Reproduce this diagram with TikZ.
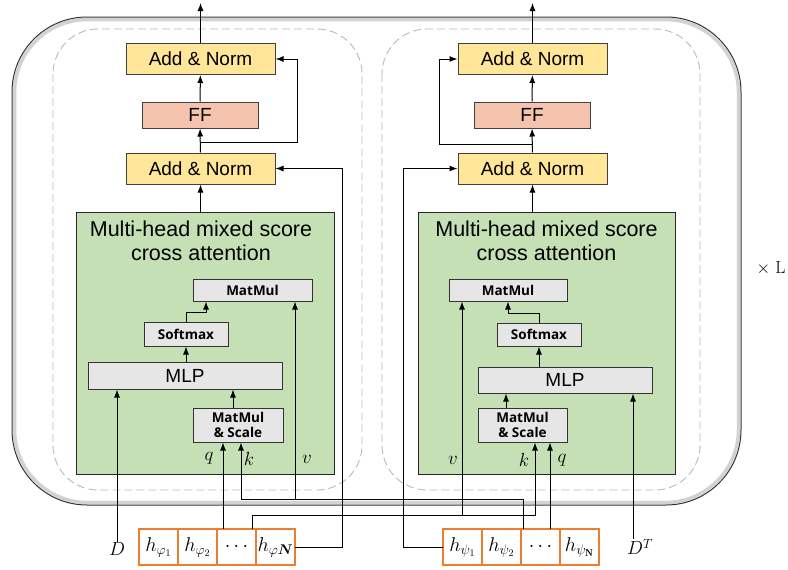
\RequirePackage{fix-cm}
\documentclass[tikz,border=0pt]{standalone}
\usepackage{fontspec}
\usepackage{bm}
\usepackage{xcolor}
\usetikzlibrary{arrows,arrows.meta,positioning,calc}

\newfontfamily\arialfont{Liberation Sans}
\newfontfamily\opfont{Open Sans}

\definecolor{addfill}{HTML}{FFE699}
\definecolor{fffill}{HTML}{F6C3AE}
\definecolor{attnfill}{HTML}{C5E0B4}
\definecolor{opfill}{HTML}{E7E6E6}
\definecolor{tokline}{HTML}{ED7D31}

\begin{document}
\begin{tikzpicture}[
            x=1pt, y=-1pt, >={Latex[length=8pt,width=6pt]}, line width=1pt,
            every node/.style={inner sep=0pt},
            addbox/.style={draw=black!75, fill=addfill, minimum width=149pt, minimum height=31pt, font=\arialfont\fontsize{19}{22}\selectfont},
            ffbox/.style={draw=black!75, fill=fffill, minimum width=116pt, minimum height=26pt, font=\arialfont\fontsize{19}{22}\selectfont},
            attnbox/.style={draw=black!85, fill=attnfill, minimum height=262pt},
            ttl/.style={align=center, font=\arialfont\fontsize{21.5}{24}\selectfont},
            opbox/.style={draw=black!80, fill=opfill, align=center, font=\opfont\bfseries\fontsize{13.5}{15}\selectfont},
            mlpbox/.style={draw=black!80, fill=opfill, font=\arialfont\fontsize{19}{22}\selectfont},
            tokbox/.style={draw=tokline, line width=1.5pt, outer sep=0pt, minimum width=39pt, minimum height=36pt, font=\fontsize{20}{22}\selectfont},
            lbl/.style={font=\fontsize{19}{21}\selectfont},
            blockframe/.style={draw=gray!55, dash pattern=on 8pt off 4pt, line width=0.9pt, rounded corners=45pt},
        ]
            \useasboundingbox (0,0) rectangle (788,570);

            % repeated layer frame
            \draw[gray!35, line width=3.5pt, rounded corners=73pt] (14.5,19.5) rectangle (738.5,502.5);
            \draw[black!80, line width=1pt, rounded corners=75pt] (12,17) rectangle (741,505);
            \draw[blockframe] (53,29) rectangle (362,490);
            \draw[blockframe] (382,29) rectangle (700,490);
            \node[font=\fontsize{17.5}{20}\selectfont] (rep) at (771,268) {$\times$ L};

            % left block
            \node[addbox] (addL2) at (200.5,59) {Add \& Norm};
            \node[ffbox] (ffL) at (200,115) {FF};
            \node[addbox] (addL1) at (200.5,168.5) {Add \& Norm};
            \node[attnbox, minimum width=258pt] (attnL) at (205,343) {};
            \node[ttl] (ttlL) at (201,241) {Multi-head mixed score\\cross attention};
            \node[opbox, minimum width=119pt, minimum height=22pt] (matL) at (252.5,290) {MatMul};
            \node[opbox, minimum width=84pt, minimum height=24pt] (softL) at (186,334) {Softmax};
            \node[mlpbox, minimum width=194pt, minimum height=27pt] (mlpL) at (185,375.5) {MLP};
            \node[opbox, minimum width=90pt, minimum height=34pt] (msL) at (238,425) {MatMul\\\& Scale};

            % right block
            \node[addbox] (addR2) at (532.5,59) {Add \& Norm};
            \node[ffbox] (ffR) at (532,115) {FF};
            \node[addbox] (addR1) at (532.5,168.5) {Add \& Norm};
            \node[attnbox, minimum width=257pt] (attnR) at (546.5,343) {};
            \node[ttl] (ttlR) at (546.5,241) {Multi-head mixed score\\cross attention};
            \node[opbox, minimum width=118pt, minimum height=22pt] (matR) at (508,290) {MatMul};
            \node[opbox, minimum width=84pt, minimum height=23pt] (softR) at (539,334.5) {Softmax};
            \node[mlpbox, minimum width=174pt, minimum height=26pt] (mlpR) at (565,380) {MLP};
            \node[opbox, minimum width=89pt, minimum height=34pt] (msR) at (522.5,425) {MatMul\\\& Scale};

            % token sequences
            \node[tokbox] (phi1) at (158.5,547) {$h_{\varphi_1}$};
            \node[tokbox, right=0pt of phi1] (phi2) {$h_{\varphi_2}$};
            \node[tokbox, right=0pt of phi2] (phi3) {$\cdots$};
            \node[tokbox, right=0pt of phi3] (phi4) {$h_{\varphi\bm{N}}$};
            \node[tokbox] (psi1) at (462.5,547) {$h_{\psi_1}$};
            \node[tokbox, right=0pt of psi1] (psi2) {$h_{\psi_2}$};
            \node[tokbox, right=0pt of psi2] (psi3) {$\cdots$};
            \node[tokbox, right=0pt of psi3] (psi4) {$h_{\psi_{\mathbf{N}}}$};
            \node[lbl] (DL) at (117,549) {$D$};
            \node[lbl] (DR) at (640,547) {$D^T$};

            % q k v labels
            \node[lbl] (qLl) at (209,458) {$q$};
            \node[lbl] (kLl) at (249,459) {$k$};
            \node[lbl] (vLl) at (307,459) {$v$};
            \node[lbl] (vRl) at (453,460) {$v$};
            \node[lbl] (kRl) at (524,460) {$k$};
            \node[lbl] (qRl) at (562,460) {$q$};

            % helper points
            \coordinate (outL) at (200.5,3);
            \coordinate (outR) at (532.5,3);
            \coordinate (resL) at (297,142);
            \coordinate (resR) at (439,144);
            \coordinate (busA) at (0,499);
            \coordinate (busB) at (0,515);
            \coordinate (qL) at ([xshift=-15pt]msL.south);
            \coordinate (kL) at ([xshift=3pt]msL.south);
            \coordinate (vL) at ([xshift=42.5pt]matL.south);
            \coordinate (qR) at ([xshift=27.5pt]msR.south);
            \coordinate (kR) at ([xshift=12.5pt]msR.south);
            \coordinate (vR) at ([xshift=-46pt]matR.south);
            \coordinate (tapL) at ([xshift=-17.5pt]psi3.north);
            \coordinate (tapR) at ([xshift=15.5pt]phi3.north);
            \coordinate (skipL) at ([xshift=67pt]addL1.east);
            \coordinate (skipR) at ([xshift=-54pt]addR1.west);
            \coordinate (dR) at ([xshift=68pt]mlpR.south);

            % left block flow
            \draw[->] (addL2) -- (outL);
            \draw[->] (ffL) -- (addL2);
            \draw[->] (addL1) -- (ffL);
            \draw[->] (addL1.north |- resL) -- (resL) |- (addL2.east);
            \draw[->] (attnL.north -| addL1) -- (addL1);
            \draw[->] (mlpL.north -| softL) -- (softL);
            \draw[->] (softL.north) -- ++(0,-9) -| ([xshift=-46.5pt]matL.south);
            \draw[->] ([xshift=-5pt]msL.north) -- ([xshift=-5pt]msL.north |- mlpL.south);
            \draw[->] (DL.north) -- (DL.north |- mlpL.south);
            \draw[->] (phi3.north -| qL) -- (qL);
            \draw[->] (tapL) |- (busA -| kL) -- (kL);
            \draw[->] (busA -| vL) -- (vL);
            \draw[->] (phi4.east) -| (skipL) -- (addL1.east);

            % right block flow
            \draw[->] (addR2) -- (outR);
            \draw[->] (ffR) -- (addR2);
            \draw[->] (addR1) -- (ffR);
            \draw[->] (addR1.north |- resR) -- (resR) |- (addR2.west);
            \draw[->] (attnR.north -| addR1) -- (addR1);
            \draw[->] (mlpR.north -| softR) -- (softR);
            \draw[->] (softR.north) -- ++(0,-9) -| (matR.south);
            \draw[->] ([xshift=-16.5pt]msR.north) -- ([xshift=-16.5pt]msR.north |- mlpR.south);
            \draw[->] (DR.north -| dR) -- (dR);
            \draw[->] (psi3.north -| qR) -- (qR);
            \draw[->] (tapR) |- (busB -| kR) -- (kR);
            \draw[->] (busB -| vR) -- (vR);
            \draw[->] (psi1.west) -| (skipR) -- (addR1.west);
        \end{tikzpicture}
\end{document}
